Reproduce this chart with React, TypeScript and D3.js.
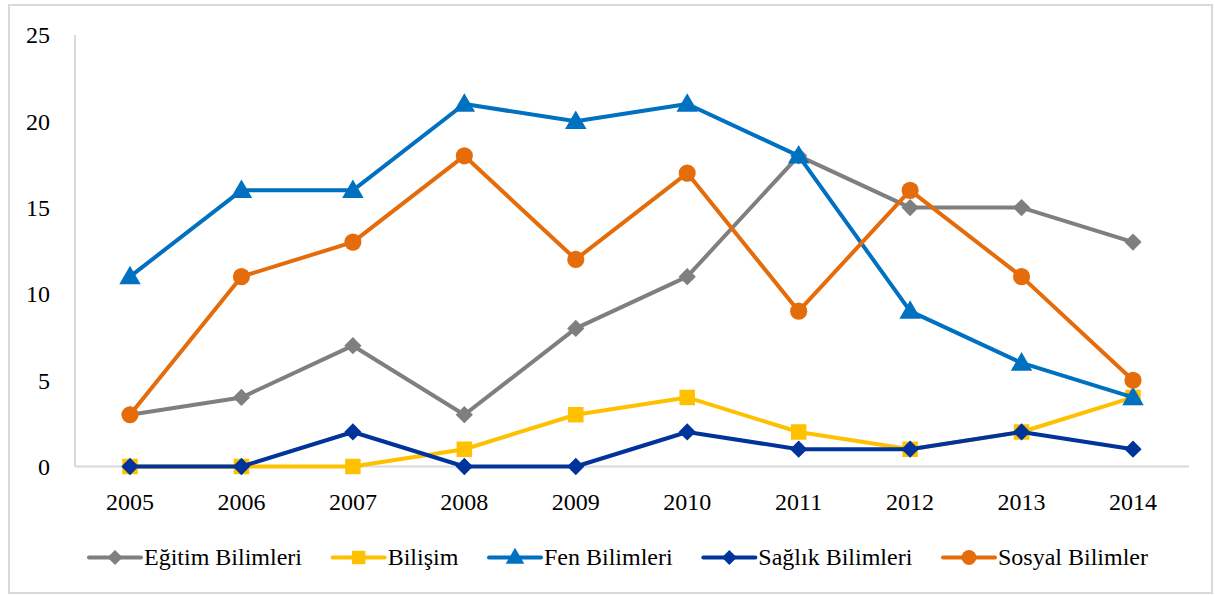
import React, { useRef, useEffect } from 'react';
import * as d3 from 'd3';

const years = ['2005', '2006', '2007', '2008', '2009', '2010', '2011', '2012', '2013', '2014'];
const seriesNames = ['Eğitim Bilimleri', 'Bilişim', 'Fen Bilimleri', 'Sağlık Bilimleri', 'Sosyal Bilimler'];
const egitim = [3, 4, 7, 3, 8, 11, 18, 15, 15, 13];
const bilisim = [0, 0, 0, 1, 3, 4, 2, 1, 2, 4];
const fen = [11, 16, 16, 21, 20, 21, 18, 9, 6, 4];
const saglik = [0, 0, 2, 0, 0, 2, 1, 1, 2, 1];
const sosyal = [3, 11, 13, 18, 12, 17, 9, 16, 11, 5];
const yTicks = [0, 5, 10, 15, 20, 25];

const colors = ['#7f7f7f', '#ffc000', '#0070c0', '#00349a', '#e46c0a'];
const symbols = [d3.symbolDiamond2, d3.symbolSquare, d3.symbolTriangle, d3.symbolDiamond2, d3.symbolCircle];
const symbolSizes = [190, 240, 200, 190, 230];

const W = 1215;
const H = 595;
const FONT = "'Liberation Serif', 'DejaVu Serif', 'Times New Roman', serif";

const App = () => {
  const ref = useRef<SVGSVGElement>(null);

  useEffect(() => {
    const svg = d3.select(ref.current);
    svg.selectAll('*').remove();

    const values = [egitim, bilisim, fen, saglik, sosyal];

    svg.append('rect')
      .attr('x', 9).attr('y', 5)
      .attr('width', 1203).attr('height', 588)
      .attr('fill', 'white')
      .attr('stroke', '#d9d9d9')
      .attr('stroke-width', 2);

    const x = d3.scalePoint().domain(years).range([130, 1133]);
    const y = d3.scaleLinear().domain([0, 25]).range([466.5, 35]);
    const left = 75;
    const right = 1189;

    // axis lines
    svg.append('line')
      .attr('x1', left).attr('x2', left)
      .attr('y1', y(25)).attr('y2', y(0))
      .attr('stroke', '#d9d9d9').attr('stroke-width', 2);
    svg.append('line')
      .attr('x1', left).attr('x2', right)
      .attr('y1', y(0)).attr('y2', y(0))
      .attr('stroke', '#d9d9d9').attr('stroke-width', 2);

    svg.append('g').selectAll('text')
      .data(yTicks)
      .enter()
      .append('text')
      .attr('x', 50)
      .attr('y', d => y(d))
      .attr('dy', '0.35em')
      .attr('text-anchor', 'end')
      .style('font-family', FONT)
      .attr('font-size', 24)
      .attr('fill', '#000')
      .text(d => d);

    svg.append('g').selectAll('text')
      .data(years)
      .enter()
      .append('text')
      .attr('x', d => x(d)!)
      .attr('y', 510)
      .attr('text-anchor', 'middle')
      .style('font-family', FONT)
      .attr('font-size', 24)
      .attr('fill', '#000')
      .text(d => d);

    const line = d3.line<number>()
      .x((d, i) => x(years[i])!)
      .y(d => y(d));

    values.forEach((vals, s) => {
      const g = svg.append('g');
      g.append('path')
        .attr('d', line(vals))
        .attr('fill', 'none')
        .attr('stroke', colors[s])
        .attr('stroke-width', 4)
        .attr('stroke-linejoin', 'round')
        .attr('stroke-linecap', 'round');
      const sym = d3.symbol().type(symbols[s]).size(symbolSizes[s]);
      g.selectAll('path.m')
        .data(vals)
        .enter()
        .append('path')
        .attr('class', 'm')
        .attr('d', sym)
        .attr('transform', (d, i) => `translate(${x(years[i])},${y(d) + (s === 2 ? 1.5 : 0)})`)
        .attr('fill', colors[s]);
    });

    // legend: spread between 88 and 1148 like the original
    const legend = svg.append('g');
    const items: { g: any; w: number }[] = [];
    seriesNames.forEach((name, s) => {
      const g = legend.append('g');
      g.append('line')
        .attr('x1', 1).attr('x2', 53)
        .attr('y1', 0).attr('y2', 0)
        .attr('stroke', colors[s])
        .attr('stroke-width', 4)
        .attr('stroke-linecap', 'round');
      g.append('path')
        .attr('d', d3.symbol().type(symbols[s]).size(symbolSizes[s] * 0.75)())
        .attr('transform', `translate(27,${s === 2 ? 1 : 0})`)
        .attr('fill', colors[s]);
      const t = g.append('text')
        .attr('x', 56)
        .attr('dy', '0.33em')
        .style('font-family', FONT)
        .attr('font-size', 24)
        .attr('fill', '#000')
        .text(name);
      const w = 56 + (t.node() as SVGTextElement).getComputedTextLength();
      items.push({ g, w });
    });
    const start = 88;
    const end = 1148;
    const gap = Math.max(10, (end - start - d3.sum(items, d => d.w)) / (items.length - 1));
    let cx = start;
    items.forEach(it => {
      it.g.attr('transform', `translate(${cx},557.5)`);
      cx += it.w + gap;
    });
  }, []);

  return (
    <svg
      ref={ref}
      width={W}
      height={H}
      style={{ position: 'absolute', left: 0, top: 0, background: '#fff' }}
    ></svg>
  );
};

export default App;
